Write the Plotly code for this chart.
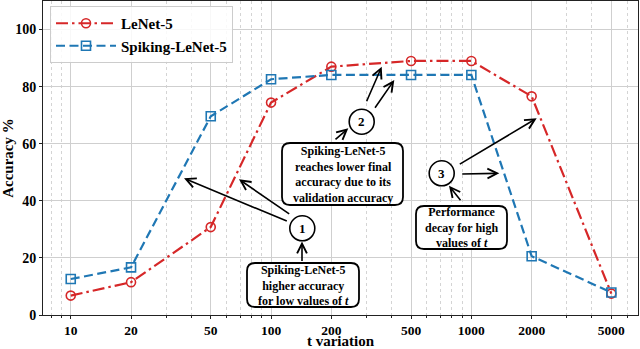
import plotly.graph_objects as go

# ---------------- data ----------------
t_values = [10, 20, 50, 100, 200, 500, 1000, 2000, 5000]
tick_labels = ["10", "20", "50", "100", "200", "500", "1000", "2000", "5000"]
minor_ticks = [8, 9, 30, 40, 60, 70, 80, 90, 300, 400, 600, 700, 800, 900, 3000, 4000, 6000]
lenet_acc = [6.8, 11.5, 30.8, 74.4, 87.0, 89.0, 89.0, 76.6, 7.5]
spiking_acc = [12.6, 16.7, 69.6, 82.6, 84.1, 84.1, 84.1, 20.6, 7.9]
series_names = ["LeNet-5", "Spiking-LeNet-5"]
y_ticks = [0, 20, 40, 60, 80, 100]

box_texts = [
    "Spiking-LeNet-5<br>higher accuracy<br>for low values of <i>t</i>",
    "Spiking-LeNet-5<br>reaches lower final<br>accuracy due to its<br>validation accuracy",
    "Performance<br>decay for high<br>values of <i>t</i>",
]
circle_labels = ["1", "2", "3"]

# ---------------- layout helpers (pixel -> paper) ----------------
W, H = 640, 349
PL, PR, PT, PB = 43, 2, 1, 34
PW, PH = W - PL - PR, H - PT - PB
FONT = "Liberation Serif"
RED = "#d62728"
BLUE = "#1f77b4"


def fx(x):
    return (x - PL) / PW


def fy(y):
    return (PT + PH - y) / PH


def rrect_path(x0, y0, x1, y1, r):
    pts = []
    pts.append(f"M{fx(x0 + r)},{fy(y0)}")
    pts.append(f"L{fx(x1 - r)},{fy(y0)}")
    pts.append(f"Q{fx(x1)},{fy(y0)} {fx(x1)},{fy(y0 + r)}")
    pts.append(f"L{fx(x1)},{fy(y1 - r)}")
    pts.append(f"Q{fx(x1)},{fy(y1)} {fx(x1 - r)},{fy(y1)}")
    pts.append(f"L{fx(x0 + r)},{fy(y1)}")
    pts.append(f"Q{fx(x0)},{fy(y1)} {fx(x0)},{fy(y1 - r)}")
    pts.append(f"L{fx(x0)},{fy(y0 + r)}")
    pts.append(f"Q{fx(x0)},{fy(y0)} {fx(x0 + r)},{fy(y0)}")
    return " ".join(pts) + " Z"


boxes_px = [(247, 263, 359, 307), (282, 143, 403, 205), (416, 206, 507, 249)]
circles_px = [(302.3, 228.3), (361.7, 121.7), (441.7, 173.3)]
CR = 12.5
arrows_px = [
    ((288.3, 221.7), (184, 178.3)),
    ((290.7, 215.0), (239, 179.3)),
    ((302.0, 262.5), (302, 241.5)),
    ((366.0, 102.7), (381.7, 66.7)),
    ((374.0, 109.3), (394.3, 80.0)),
    ((334.0, 140.7), (348.3, 128.3)),
    ((458.3, 165.0), (536.7, 118.3)),
    ((460.7, 174.0), (499.3, 173.3)),
    ((461.7, 201.7), (449.0, 185.7)),
]

# ---------------- figure ----------------
fig = go.Figure()
fig.add_trace(go.Scatter(
    x=t_values, y=lenet_acc, name=series_names[0], mode="lines+markers",
    line=dict(color=RED, width=2.2, dash="12px,4px,2.5px,4px"),
    marker=dict(symbol="circle-open", size=9, color=RED, line=dict(width=1.6)),
))
fig.add_trace(go.Scatter(
    x=t_values, y=spiking_acc, name=series_names[1], mode="lines+markers",
    line=dict(color=BLUE, width=2.2, dash="9px,4.5px"),
    marker=dict(symbol="square-open", size=9, color=BLUE, line=dict(width=1.6)),
))

shapes = []
for (x0, y0, x1, y1) in boxes_px:
    shapes.append(dict(type="path", xref="paper", yref="paper", path=rrect_path(x0, y0, x1, y1, 8),
                       line=dict(color="black", width=1.8), fillcolor="white", layer="above"))
for (cx, cy) in circles_px:
    shapes.append(dict(type="circle", xref="paper", yref="paper",
                       x0=fx(cx - CR), x1=fx(cx + CR), y0=fy(cy + CR), y1=fy(cy - CR),
                       line=dict(color="black", width=1.6), fillcolor="white", layer="above"))

annotations = []
for (tail, head) in arrows_px:
    annotations.append(dict(
        xref="paper", yref="paper", x=fx(head[0]), y=fy(head[1]), text="",
        showarrow=True, axref="pixel", ayref="pixel",
        ax=tail[0] - head[0], ay=tail[1] - head[1],
        arrowhead=5, arrowsize=1.2, arrowwidth=1.6, arrowcolor="black",
        standoff=0, startstandoff=0,
    ))
for (x0, y0, x1, y1), txt in zip(boxes_px, box_texts):
    annotations.append(dict(
        xref="paper", yref="paper", x=fx((x0 + x1) / 2), y=fy((y0 + y1) / 2 + 0.5),
        text=txt, showarrow=False, align="center", borderpad=0,
        font=dict(family=FONT, size=12, color="black", weight="bold"),
        xanchor="center", yanchor="middle",
    ))
for (cx, cy), lab in zip(circles_px, circle_labels):
    annotations.append(dict(
        xref="paper", yref="paper", x=fx(cx), y=fy(cy), text=lab, showarrow=False,
        font=dict(family=FONT, size=13, color="black", weight="bold"),
        xanchor="center", yanchor="middle",
    ))

fig.update_layout(
    width=W, height=H,
    margin=dict(l=PL, r=PR, t=PT, b=PB, autoexpand=False),
    paper_bgcolor="white", plot_bgcolor="white",
    font=dict(family=FONT, size=14, color="black", weight="bold"),
    shapes=shapes, annotations=annotations,
    legend=dict(x=fx(50), y=fy(6), xanchor="left", yanchor="top",
                bgcolor="rgba(255,255,255,0.85)", bordercolor="#cccccc", borderwidth=1,
                font=dict(family=FONT, size=15, weight="bold"), itemwidth=60,
                tracegroupgap=2),
    xaxis=dict(
        type="log", range=[0.8615, 3.832],
        tickvals=t_values, ticktext=tick_labels,
        ticks="outside", ticklen=3, tickcolor="#222",
        tickfont=dict(size=13.5),
        showgrid=True, gridcolor="#cfcfcf", gridwidth=1,
        showline=True, mirror=True, linecolor="#222", linewidth=1,
        minor=dict(tickvals=minor_ticks, ticks="outside", ticklen=2, tickcolor="#222",
                   showgrid=True, gridcolor="#d4d4d4", griddash="dot", gridwidth=1),
        title=dict(text="t variation", standoff=4, font=dict(size=15, weight="bold")),
        zeroline=False,
    ),
    yaxis=dict(
        range=[0, 110], tickvals=y_ticks,
        ticks="outside", ticklen=3, tickcolor="#222",
        tickfont=dict(size=14),
        showgrid=True, gridcolor="#cfcfcf", gridwidth=1,
        showline=True, mirror=True, linecolor="#222", linewidth=1,
        title=dict(text="Accuracy %", standoff=4, font=dict(size=15, weight="bold")),
        zeroline=False,
    ),
)

fig.write_html("out.html", config={"displayModeBar": False},
               post_script="document.body.style.margin='0';document.body.style.overflow='hidden';")
